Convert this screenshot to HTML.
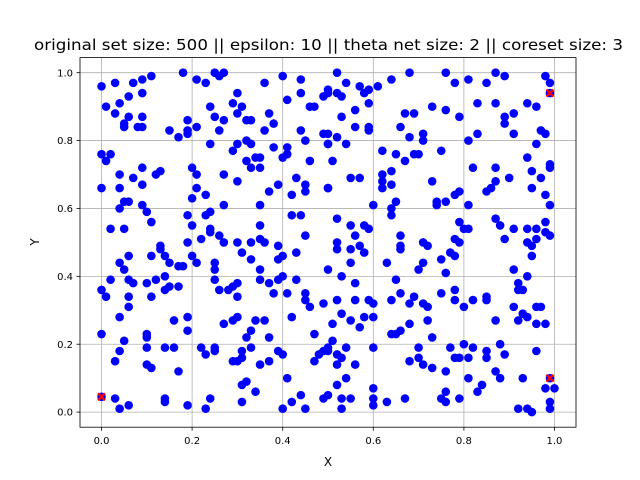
<!DOCTYPE html>
<html><head><meta charset="utf-8">
<style>
html,body{margin:0;padding:0;background:#fff;}
svg{display:block;font-family:"DejaVu Sans","Liberation Sans",sans-serif;}
</style></head>
<body>
<svg id="chart" width="640" height="480" viewBox="0 0 640 480" xmlns="http://www.w3.org/2000/svg">
<rect x="0" y="0" width="640" height="480" fill="#fff"/>
<text x="34" y="50" textLength="589" lengthAdjust="spacingAndGlyphs" font-size="15.5" fill="#000">original set size: 500 || epsilon: 10 || theta net size: 2 || coreset size: 3</text>
<g id="grid"></g>
<g id="points"></g>
<g id="coreset"></g>
<rect x="80" y="57.6" width="496" height="369.6" fill="none" stroke="#000" stroke-width="0.8"/>
<g id="ticks"></g>
<text x="328" y="466" text-anchor="middle" font-size="12">X</text>
<text x="39" y="242" text-anchor="middle" font-size="12" transform="rotate(-90 39 242)">Y</text>
</svg>
<script>
const xTicks = [0, 0.2, 0.4, 0.6, 0.8, 1.0];
const yTicks = [0, 0.2, 0.4, 0.6, 0.8, 1.0];
const xTickLabels = ["0.0","0.2","0.4","0.6","0.8","1.0"];
const yTickLabels = ["0.0","0.2","0.4","0.6","0.8","1.0"];
const coresetX = [0.00, 0.99, 0.99];
const coresetY = [0.045, 0.94, 0.10];
const pts = [
[0.00,0.96],[0.03,0.97],[0.07,0.97],[0.09,0.98],[0.11,0.99],[0.18,1.00],[0.21,0.98],[0.23,0.97],[0.25,1.00],[0.26,0.99],[0.27,1.00],[0.30,0.94],[0.29,0.91],[0.31,0.90],[0.30,0.88],[0.32,0.86],[0.33,0.86],[0.36,0.97],[0.37,0.88],[0.38,0.85],[0.36,0.83],[0.40,0.99],[0.41,0.92],[0.44,0.98],[0.44,0.94],[0.46,0.90],[0.47,0.90],[0.49,0.93],[0.50,0.94],[0.44,0.83],[0.49,0.82],[0.50,0.79],[0.45,0.80],
[0.01,0.90],[0.04,0.91],[0.03,0.88],[0.06,0.87],[0.05,0.85],[0.05,0.84],[0.08,0.84],[0.09,0.87],[0.09,0.84],[0.09,0.94],[0.06,0.93],[0.15,0.83],[0.17,0.81],[0.19,0.86],[0.19,0.83],[0.19,0.82],[0.21,0.84],[0.24,0.90],[0.25,0.87],[0.27,0.86],[0.26,0.83],
[0.24,0.79],[0.30,0.79],[0.32,0.80],[0.33,0.79],[0.29,0.77],[0.32,0.74],[0.34,0.75],[0.35,0.75],[0.33,0.72],[0.35,0.72],[0.38,0.78],[0.41,0.78],[0.41,0.76],[0.40,0.75],[0.46,0.74],
[0.00,0.76],[0.02,0.76],[0.01,0.74],[0.09,0.72],[0.04,0.70],[0.07,0.69],[0.09,0.67],[0.12,0.70],[0.13,0.71],[0.20,0.72],[0.21,0.70],[0.27,0.70],[0.30,0.68],[0.39,0.67],[0.37,0.65],[0.42,0.64],[0.43,0.69],[0.45,0.67],[0.45,0.65],[0.50,0.66],
[0.00,0.66],[0.04,0.66],[0.21,0.66],[0.20,0.63],[0.23,0.64],[0.05,0.62],[0.06,0.62],[0.04,0.60],[0.09,0.61],[0.10,0.59],[0.27,0.61],[0.35,0.61],[0.11,0.56],[0.02,0.54],[0.05,0.54],[0.19,0.58],[0.23,0.58],[0.24,0.59],[0.20,0.55],[0.24,0.54],[0.24,0.53],[0.26,0.52],[0.22,0.51],[0.19,0.50],[0.27,0.50],[0.30,0.50],[0.33,0.50],[0.35,0.51],[0.36,0.50],[0.35,0.55],[0.39,0.49],[0.42,0.58],[0.44,0.58],[0.45,0.52],[0.13,0.49],
[0.52,1.00],[0.54,0.97],[0.50,0.95],[0.52,0.94],[0.53,0.93],[0.57,0.96],[0.58,0.94],[0.59,0.95],[0.61,0.96],[0.59,0.91],[0.56,0.89],[0.53,0.87],[0.56,0.84],[0.59,0.84],[0.59,0.83],[0.50,0.82],[0.52,0.81],[0.50,0.79],[0.54,0.79],[0.51,0.74],
[0.64,0.98],[0.68,1.00],[0.76,1.00],[0.78,0.97],[0.81,0.98],[0.85,0.97],[0.87,1.00],[0.89,0.99],[0.98,0.99],[0.99,0.97],[0.83,0.91],[0.87,0.91],[0.94,0.91],[0.96,0.90],[0.73,0.90],[0.76,0.89],[0.67,0.88],[0.69,0.88],[0.79,0.87],[0.66,0.84],[0.71,0.82],[0.68,0.81],[0.71,0.80],[0.81,0.80],[0.83,0.82],[0.89,0.85],[0.89,0.87],[0.91,0.88],[0.91,0.82],[0.97,0.83],[0.98,0.82],[0.96,0.79],
[0.62,0.77],[0.65,0.76],[0.67,0.74],[0.69,0.76],[0.70,0.76],[0.75,0.77],[0.94,0.75],[0.99,0.73],[0.99,0.72],[0.95,0.71],[0.97,0.69],[0.95,0.66],[0.98,0.64],[0.99,0.61],[0.82,0.72],[0.87,0.72],[0.90,0.69],[0.87,0.68],[0.86,0.66],[0.85,0.65],
[0.55,0.69],[0.57,0.69],[0.62,0.70],[0.64,0.71],[0.62,0.68],[0.64,0.67],[0.62,0.66],[0.73,0.68],[0.50,0.66],[0.60,0.61],[0.65,0.62],[0.64,0.60],[0.64,0.58],[0.74,0.62],[0.74,0.61],[0.76,0.62],[0.78,0.64],[0.79,0.65],[0.81,0.61],
[0.52,0.57],[0.55,0.55],[0.56,0.52],[0.58,0.55],[0.59,0.54],[0.66,0.52],[0.79,0.56],[0.80,0.54],[0.81,0.54],[0.87,0.57],[0.88,0.55],[0.91,0.54],[0.94,0.54],[0.96,0.54],[0.98,0.56],[0.98,0.53],[0.99,0.52],[0.96,0.51],[0.89,0.51],[0.52,0.50],[0.71,0.50],[0.78,0.51],[0.94,0.50],
[0.06,0.46],[0.04,0.44],[0.05,0.42],[0.11,0.46],[0.13,0.48],[0.14,0.46],[0.15,0.44],[0.17,0.43],[0.18,0.43],[0.20,0.46],[0.21,0.44],[0.25,0.44],[0.25,0.42],[0.31,0.47],[0.33,0.45],[0.35,0.42],[0.39,0.45],[0.40,0.46],[0.43,0.47],
[0.02,0.39],[0.00,0.36],[0.01,0.34],[0.06,0.39],[0.07,0.38],[0.10,0.38],[0.12,0.39],[0.14,0.40],[0.14,0.36],[0.15,0.37],[0.17,0.37],[0.06,0.34],[0.06,0.31],[0.11,0.34],[0.25,0.39],[0.26,0.36],[0.28,0.36],[0.29,0.37],[0.30,0.38],[0.30,0.34],[0.35,0.39],[0.37,0.38],[0.39,0.39],[0.38,0.35],[0.40,0.40],[0.43,0.39],[0.41,0.35],[0.45,0.35],[0.45,0.33],[0.46,0.31],[0.49,0.32],[0.50,0.42],
[0.04,0.28],[0.00,0.23],[0.05,0.21],[0.10,0.23],[0.10,0.22],[0.10,0.19],[0.16,0.27],[0.19,0.28],[0.19,0.24],[0.14,0.19],[0.16,0.19],[0.22,0.19],[0.23,0.17],[0.25,0.19],[0.25,0.18],[0.27,0.26],[0.29,0.27],[0.30,0.28],[0.34,0.27],[0.36,0.27],[0.33,0.24],[0.32,0.22],[0.37,0.22],[0.31,0.18],[0.33,0.19],[0.29,0.15],[0.30,0.15],[0.31,0.16],[0.35,0.14],[0.37,0.15],[0.39,0.18],[0.40,0.17],[0.42,0.28],[0.47,0.23],[0.49,0.18],[0.48,0.17],[0.47,0.15],
[0.04,0.18],[0.03,0.15],[0.10,0.14],[0.11,0.13],[0.17,0.12],[0.41,0.10],[0.31,0.08],[0.32,0.09],[0.34,0.06],[0.31,0.03],[0.44,0.05],[0.42,0.03],[0.45,0.01],[0.40,0.01],[0.49,0.04],[0.03,0.04],[0.04,0.01],[0.06,0.02],[0.14,0.03],[0.14,0.04],[0.19,0.02],[0.24,0.04],[0.23,0.01],
[0.52,0.48],[0.55,0.48],[0.57,0.49],[0.58,0.47],[0.66,0.49],[0.66,0.48],[0.72,0.49],[0.79,0.50],[0.77,0.47],[0.78,0.46],[0.95,0.49],[0.95,0.46],[0.55,0.44],[0.53,0.40],[0.56,0.38],[0.63,0.44],[0.71,0.44],[0.70,0.42],[0.75,0.45],[0.76,0.41],[0.65,0.39],[0.91,0.42],[0.94,0.40],[0.92,0.38],[0.93,0.36],[0.92,0.36],
[0.52,0.33],[0.53,0.29],[0.56,0.33],[0.59,0.33],[0.60,0.32],[0.58,0.28],[0.60,0.28],[0.55,0.27],[0.51,0.26],[0.57,0.25],[0.66,0.35],[0.68,0.32],[0.69,0.34],[0.64,0.33],[0.71,0.32],[0.72,0.31],[0.75,0.35],[0.78,0.33],[0.78,0.36],[0.80,0.31],[0.82,0.33],[0.85,0.34],[0.85,0.33],[0.72,0.27],[0.68,0.26],[0.91,0.31],[0.93,0.29],[0.92,0.27],[0.94,0.28],[0.96,0.31],[0.97,0.31],[0.96,0.26],[0.98,0.26],[0.87,0.27],
[0.64,0.23],[0.65,0.23],[0.66,0.24],[0.73,0.22],[0.51,0.21],[0.50,0.19],[0.50,0.18],[0.52,0.17],[0.53,0.16],[0.52,0.14],[0.54,0.19],[0.56,0.14],[0.60,0.19],[0.70,0.19],[0.70,0.16],[0.68,0.15],[0.71,0.14],[0.73,0.13],[0.76,0.12],[0.77,0.19],[0.78,0.16],[0.79,0.16],[0.81,0.16],[0.80,0.20],[0.82,0.19],[0.85,0.18],[0.85,0.16],[0.88,0.20],[0.89,0.17],[0.87,0.12],[0.88,0.10],[0.96,0.18],[0.93,0.10],[0.81,0.10],[0.84,0.08],[0.83,0.06],
[0.98,0.07],[1.00,0.07],[0.99,0.03],[0.99,0.01],[0.92,0.01],[0.94,0.01],[0.95,0.00],[0.99,0.10],[0.99,0.94],[0.00,0.045],
[0.54,0.10],[0.52,0.08],[0.50,0.05],[0.53,0.04],[0.55,0.04],[0.53,0.01],[0.60,0.07],[0.60,0.04],[0.60,0.02],[0.63,0.03],[0.67,0.04],[0.75,0.04],[0.76,0.06],[0.76,0.03],[0.79,0.04]
];

const NS = "http://www.w3.org/2000/svg";
const L = 80, R = 576, T = 57.6, B = 427.2;
const xMin = -0.0475, xMax = 1.0475, yMin = -0.0445, yMax = 1.0445;
function sx(v){ return L + (v - xMin) / (xMax - xMin) * (R - L); }
function sy(v){ return B - (v - yMin) / (yMax - yMin) * (B - T); }
function mk(tag, attrs){ const e = document.createElementNS(NS, tag); for (const k in attrs) e.setAttribute(k, attrs[k]); return e; }

const grid = document.getElementById('grid');
const ticks = document.getElementById('ticks');
xTicks.forEach((v, i) => {
  const g = mk('line', {x1: sx(v), x2: sx(v), y1: T, y2: B, stroke: '#b0b0b0', 'stroke-width': 0.8});
  
  
  grid.appendChild(g);
  const t = mk('line', {x1: sx(v), x2: sx(v), y1: B, y2: B + 3.5, stroke: '#000', 'stroke-width': 0.8});
  
  
  ticks.appendChild(t);
  const lb = mk('text', {x: sx(v), y: B + 17, 'text-anchor': 'middle', 'font-size': 10});
  
  
  lb.textContent = xTickLabels[i];
  ticks.appendChild(lb);
});
yTicks.forEach((v, i) => {
  const g = mk('line', {x1: L, x2: R, y1: sy(v), y2: sy(v), stroke: '#b0b0b0', 'stroke-width': 0.8});
  
  
  grid.appendChild(g);
  const t = mk('line', {x1: L - 3.5, x2: L, y1: sy(v), y2: sy(v), stroke: '#000', 'stroke-width': 0.8});
  
  
  ticks.appendChild(t);
  const lb = mk('text', {x: L - 7, y: sy(v) + 3.6, 'text-anchor': 'end', 'font-size': 10});
  
  
  lb.textContent = yTickLabels[i];
  ticks.appendChild(lb);
});

const pg = document.getElementById('points');
pts.forEach(p => {
  const c = mk('circle', {cx: sx(p[0]), cy: sy(p[1]), r: 4.3, fill: '#0000ff'});
  
  
  pg.appendChild(c);
});

const cg = document.getElementById('coreset');
coresetX.forEach((v, i) => {
  const x = sx(v), y = sy(coresetY[i]), s = 3.5;
  const m = mk('path', {d: `M${x-s},${y-s}L${x+s},${y+s}M${x-s},${y+s}L${x+s},${y-s}`, stroke: '#ff0000', 'stroke-width': 2.2, fill: 'none'});
  
  
  cg.appendChild(m);
});
</script>
</body></html>
